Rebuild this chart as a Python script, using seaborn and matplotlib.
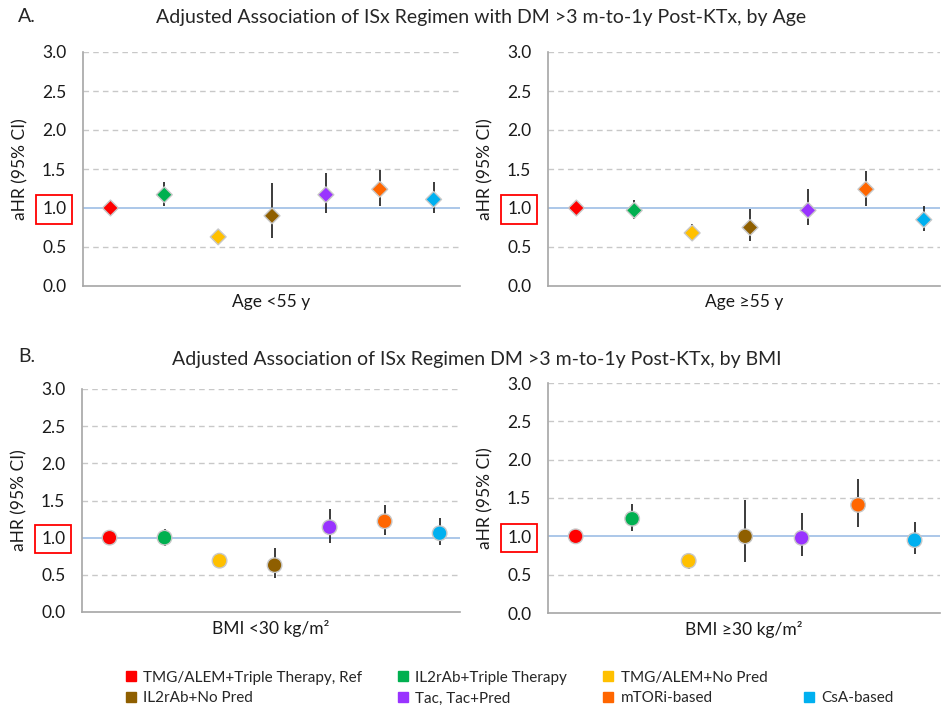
import pandas as pd
import matplotlib.pyplot as plt
import seaborn as sns
from matplotlib.lines import Line2D

# regimens and colours
regimens = ["TMG/ALEM+Triple Therapy, Ref", "IL2rAb+Triple Therapy", "TMG/ALEM+No Pred",
            "IL2rAb+No Pred", "Tac, Tac+Pred", "mTORi-based", "CsA-based"]
colors = ["#FF0000", "#00B050", "#FFC000", "#8F5F00", "#9933FF", "#FF6600", "#00B0F0"]

# aHR and 95% CI
age_lt55_hr = [1.00, 1.17, 0.63, 0.90, 1.17, 1.24, 1.11]
age_lt55_lo = [1.00, 1.03, 0.57, 0.62, 0.94, 1.03, 0.94]
age_lt55_hi = [1.00, 1.33, 0.70, 1.32, 1.45, 1.49, 1.33]

age_ge55_hr = [1.00, 0.97, 0.68, 0.75, 0.97, 1.24, 0.85]
age_ge55_lo = [1.00, 0.86, 0.60, 0.58, 0.78, 1.03, 0.71]
age_ge55_hi = [1.00, 1.10, 0.79, 0.99, 1.24, 1.48, 1.03]

bmi_lt30_hr = [1.00, 1.00, 0.69, 0.63, 1.14, 1.22, 1.06]
bmi_lt30_lo = [1.00, 0.89, 0.64, 0.46, 0.93, 1.04, 0.90]
bmi_lt30_hi = [1.00, 1.12, 0.74, 0.86, 1.39, 1.44, 1.26]

bmi_ge30_hr = [1.00, 1.23, 0.68, 1.00, 0.98, 1.41, 0.95]
bmi_ge30_lo = [1.00, 1.07, 0.58, 0.66, 0.74, 1.12, 0.77]
bmi_ge30_hi = [1.00, 1.42, 0.78, 1.48, 1.31, 1.75, 1.19]

yticks = [0.0, 0.5, 1.0, 1.5, 2.0, 2.5, 3.0]

sns.set_theme(style="white")
plt.rcParams['font.family'] = ['Lato', 'DejaVu Sans']

fig = plt.figure(figsize=(9.42, 7.06), dpi=100)
W, H = 942, 706


def add_ax(x0, x1, ytop, ybot):
    return fig.add_axes([x0 / W, 1 - ybot / H, (x1 - x0) / W, (ybot - ytop) / H])


panels = [
    (add_ax(83, 460, 52, 286), age_lt55_hr, age_lt55_lo, age_lt55_hi, "Age <55 y", "D", (-0.51, 6.49)),
    (add_ax(548, 940, 52, 286), age_ge55_hr, age_ge55_lo, age_ge55_hi, "Age ≥55 y", "D", (-0.49, 6.28)),
    (add_ax(82, 460, 389, 612), bmi_lt30_hr, bmi_lt30_lo, bmi_lt30_hi, "BMI <30 kg/m²", "o", (-0.5, 6.37)),
    (add_ax(548, 940, 383, 613), bmi_ge30_hr, bmi_ge30_lo, bmi_ge30_hi, "BMI ≥30 kg/m²", "o", (-0.49, 6.45)),
]

for ax, hr, lo, hi, xlab, mk, xl in panels:
    df = pd.DataFrame({"regimen": regimens, "x": range(len(regimens)), "hr": hr, "lo": lo, "hi": hi})
    for y in [0.5, 1.5, 2.0, 2.5, 3.0]:
        ax.axhline(y, color="#C8C8C8", lw=1, ls=(0, (4, 3)), zorder=0)
    ax.axhline(1.0, color="#95B8E3", lw=1.1, zorder=1)
    ax.vlines(df["x"], df["lo"], df["hi"], color="#1a1a1a", lw=1.2, zorder=2)
    sns.scatterplot(data=df, x="x", y="hr", hue="regimen", palette=colors, marker=mk,
                    s=65 if mk == "D" else 110, edgecolor="#C8C8C8", linewidth=1,
                    legend=False, ax=ax, zorder=3, clip_on=False)
    ax.set_xlim(*xl)
    ax.set_ylim(0, 3.0)
    ax.set_xticks([])
    ax.set_yticks(yticks)
    ax.set_yticklabels([f"{t:.1f}" for t in yticks])
    ax.tick_params(axis="y", length=0, pad=12, labelsize=12.5, colors="#1a1a1a")
    ax.set_xlabel(xlab, fontsize=12.5, color="#1a1a1a", labelpad=6)
    ax.set_ylabel("aHR (95% CI)", fontsize=12.5, color="#1a1a1a", labelpad=10)
    for s in ["top", "right"]:
        ax.spines[s].set_visible(False)
    for s in ["left", "bottom"]:
        ax.spines[s].set_color("#A6A6A6")
        ax.spines[s].set_linewidth(1.2)
    ax.get_yticklabels()[2].set_bbox(dict(facecolor="none", edgecolor="red", lw=1.3,
                                          boxstyle="square,pad=0.35"))

fig.text(18 / W, 1 - 16 / H, "A.", fontsize=14, va="center", ha="left")
fig.text(481 / W, 1 - 18 / H, "Adjusted Association of ISx Regimen with DM >3 m-to-1y Post-KTx, by Age",
         fontsize=14, va="center", ha="center")
fig.text(18 / W, 1 - 357 / H, "B.", fontsize=14, va="center", ha="left")
fig.text(477 / W, 1 - 360 / H, "Adjusted Association of ISx Regimen DM >3 m-to-1y Post-KTx, by BMI",
         fontsize=14, va="center", ha="center")

# legend: row 1 has three entries, row 2 has four
handles = [Line2D([], [], marker="s", ls="", color=c, markersize=7) for c in colors]
blank = Line2D([], [], ls="", marker="")
order = [0, 3, 1, 4, 2, 5, None, 6]
hs = [handles[i] if i is not None else blank for i in order]
ls = [regimens[i] if i is not None else "" for i in order]
fig.legend(hs, ls, ncol=4, loc="center", bbox_to_anchor=(508 / W, 1 - 688 / H), frameon=False,
           fontsize=11, handletextpad=0.3, columnspacing=2.2, handlelength=1.0, labelspacing=0.45)

fig.savefig("out.png", dpi=100)
